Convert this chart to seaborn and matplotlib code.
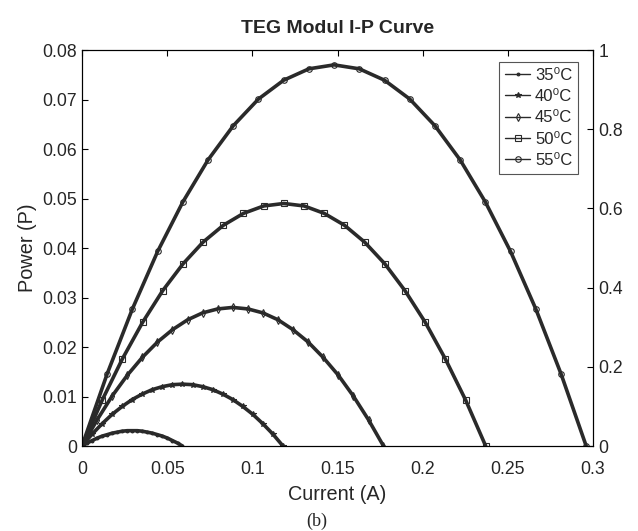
import matplotlib
matplotlib.use("Agg")
import matplotlib.pyplot as plt
import seaborn as sns

# curvas I-P (corriente A, potencia W)
etiquetas = ["35⁰C", "40⁰C", "45⁰C", "50⁰C", "55⁰C"]
marcadores = [".", "*", "d", "s", "o"]

i_35 = [0, 0.003, 0.0059, 0.0089, 0.0118, 0.0148, 0.0177, 0.0207, 0.0236, 0.0266, 0.0295,
        0.0325, 0.0354, 0.0384, 0.0413, 0.0443, 0.0472, 0.0502, 0.0531, 0.0561, 0.059]
p_35 = [0, 0.0006, 0.0011, 0.0016, 0.002, 0.0023, 0.0026, 0.0028, 0.003, 0.0031, 0.0031,
        0.0031, 0.003, 0.0028, 0.0026, 0.0023, 0.002, 0.0016, 0.0011, 0.0006, 0]

i_40 = [0, 0.0059, 0.0118, 0.0177, 0.0236, 0.0295, 0.0354, 0.0413, 0.0472, 0.0531, 0.059,
        0.0649, 0.0708, 0.0767, 0.0826, 0.0885, 0.0944, 0.1003, 0.1062, 0.1121, 0.118]
p_40 = [0, 0.0024, 0.0045, 0.0064, 0.008, 0.0094, 0.0105, 0.0114, 0.012, 0.0124, 0.0125,
        0.0124, 0.012, 0.0114, 0.0105, 0.0094, 0.008, 0.0064, 0.0045, 0.0024, 0]

i_45 = [0, 0.0089, 0.0177, 0.0266, 0.0354, 0.0443, 0.0531, 0.062, 0.0708, 0.0797, 0.0885,
        0.0974, 0.1062, 0.1151, 0.1239, 0.1328, 0.1416, 0.1505, 0.1593, 0.1682, 0.177]
p_45 = [0, 0.0053, 0.0101, 0.0143, 0.0179, 0.021, 0.0235, 0.0255, 0.0269, 0.0277, 0.028,
        0.0277, 0.0269, 0.0255, 0.0235, 0.021, 0.0179, 0.0143, 0.0101, 0.0053, 0]

i_50 = [0, 0.0119, 0.0237, 0.0356, 0.0474, 0.0593, 0.0711, 0.083, 0.0948, 0.1067, 0.1185,
        0.1304, 0.1422, 0.1541, 0.1659, 0.1778, 0.1896, 0.2015, 0.2133, 0.2252, 0.237]
p_50 = [0, 0.0093, 0.0176, 0.025, 0.0314, 0.0368, 0.0412, 0.0446, 0.047, 0.0485, 0.049,
        0.0485, 0.047, 0.0446, 0.0412, 0.0368, 0.0314, 0.025, 0.0176, 0.0093, 0]

i_55 = [0, 0.0148, 0.0296, 0.0444, 0.0592, 0.074, 0.0888, 0.1036, 0.1184, 0.1332, 0.148,
        0.1628, 0.1776, 0.1924, 0.2072, 0.222, 0.2368, 0.2516, 0.2664, 0.2812, 0.296]
p_55 = [0, 0.0146, 0.0277, 0.0393, 0.0493, 0.0578, 0.0647, 0.0701, 0.0739, 0.0762, 0.077,
        0.0762, 0.0739, 0.0701, 0.0647, 0.0578, 0.0493, 0.0393, 0.0277, 0.0146, 0]

corrientes = [i_35, i_40, i_45, i_50, i_55]
potencias = [p_35, p_40, p_45, p_50, p_55]

x_ticks = [0, 0.05, 0.1, 0.15, 0.2, 0.25, 0.3]
x_tick_labels = ["0", "0.05", "0.1", "0.15", "0.2", "0.25", "0.3"]
y_ticks = [0, 0.01, 0.02, 0.03, 0.04, 0.05, 0.06, 0.07, 0.08]
y_tick_labels = ["0", "0.01", "0.02", "0.03", "0.04", "0.05", "0.06", "0.07", "0.08"]
y2_ticks = [0, 0.2, 0.4, 0.6, 0.8, 1]
y2_tick_labels = ["0", "0.2", "0.4", "0.6", "0.8", "1"]

sns.set_style("white")
plt.rcParams["font.family"] = ["Liberation Sans", "DejaVu Sans"]

fig = plt.figure(figsize=(6.38, 5.31), dpi=100)
ax = fig.add_axes([0.1285, 0.160, 0.801, 0.7458])

gris = "#2a2a2a"
for I, P, lab, mk in zip(corrientes, potencias, etiquetas, marcadores):
    relleno = "none" if mk in ("d", "s", "o") else gris
    sns.lineplot(x=I, y=P, ax=ax, sort=False, color=gris, linewidth=2.6,
                 marker=mk, markersize=4, markerfacecolor=relleno,
                 markeredgecolor=gris, markeredgewidth=0.8, label=lab)

ax.set_xlim(0, 0.3)
ax.set_ylim(0, 0.08)
ax.set_xticks(x_ticks, x_tick_labels)
ax.set_yticks(y_ticks, y_tick_labels)
ax.tick_params(direction="in", labelsize=12.7, top=True, length=4, color="black")
ax.tick_params(axis="x", pad=11)
ax.set_xlabel("Current (A)", fontsize=14.3, labelpad=5)
ax.set_ylabel("Power (P)", fontsize=14.3, labelpad=4)
ax.set_title("TEG Modul I-P Curve", fontsize=14, fontweight="bold", pad=12)
for s in ax.spines.values():
    s.set_color("black")
    s.set_linewidth(0.8)

ax2 = ax.twinx()
ax2.set_ylim(0, 1)
ax2.set_yticks(y2_ticks, y2_tick_labels)
ax2.tick_params(direction="in", labelsize=12.7, length=4, color="black", pad=4)

for s in ax2.spines.values():
    s.set_color("black")
    s.set_linewidth(0.8)

leg = ax.legend(loc="upper right", bbox_to_anchor=(0.971, 0.970), fontsize=12,
                fancybox=False, framealpha=1, edgecolor="#555555", handlelength=1.5,
                borderpad=0.35, labelspacing=0.38, handletextpad=0.3, borderaxespad=0)
leg.get_frame().set_linewidth(0.8)
for h in leg.get_lines():
    h.set_linewidth(1.0)

fig.text(0.497, 0.01, "(b)", ha="center", fontsize=13, family="Liberation Serif")

fig.savefig("out.png", dpi=100)
